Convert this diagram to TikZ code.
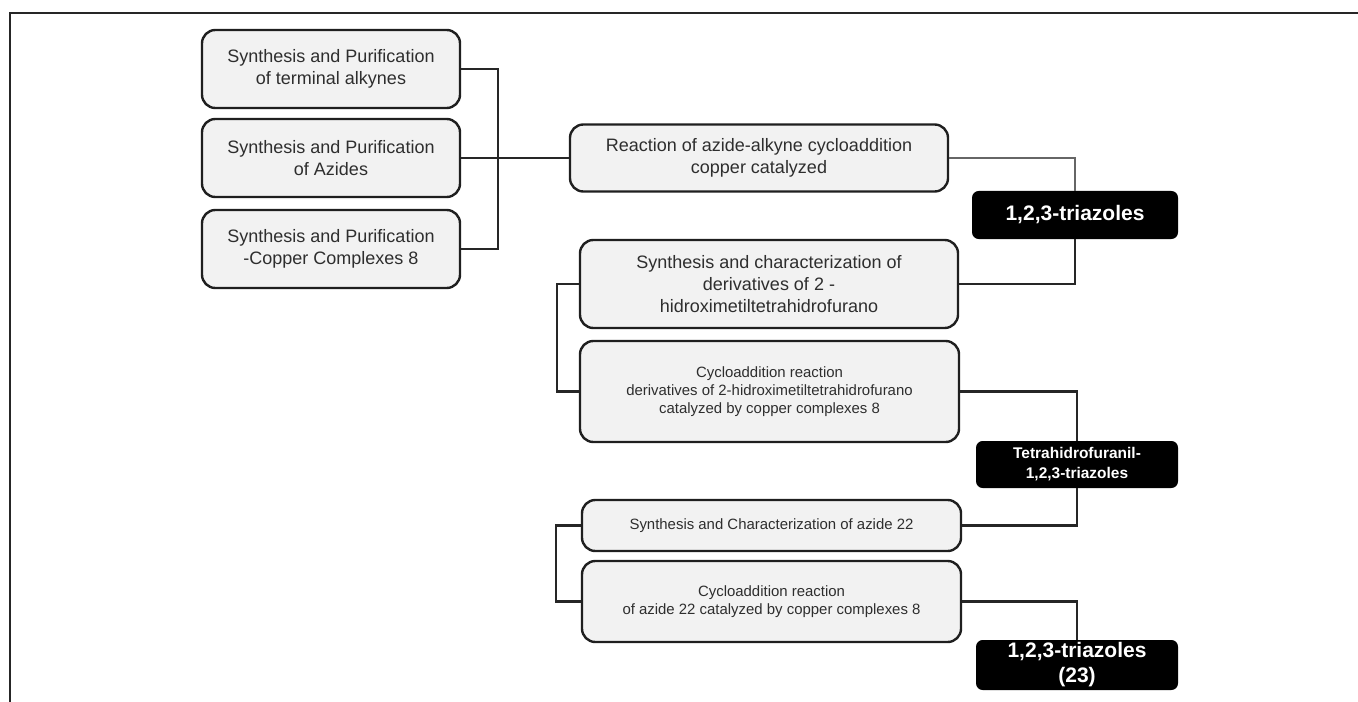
\documentclass[tikz,border=0pt]{standalone}
\usepackage{fontspec}
\setmainfont{Liberation Sans}
\usepackage{tikz}
\usetikzlibrary{positioning}

\newcommand{\px}{0.75pt}

\begin{document}
\begin{tikzpicture}[x=0.75pt, y=-0.75pt,
  caja/.style={draw=black!88, line width=1.8pt, fill=black!5, rounded corners=10pt, align=center, inner sep=0pt, text=black!82, font=\fontsize{13.5}{16.2}\selectfont},
  cajachica/.style={caja, font=\fontsize{11.2}{13.5}\selectfont},
  meta/.style={fill=black, rounded corners=5pt, align=center, inner sep=0pt, text=white, font=\bfseries\fontsize{15.75}{18.8}\selectfont},
  linea/.style={line width=1.7pt, black!85},
  lineafina/.style={line width=1.1pt, black!60}]
            \useasboundingbox (0,0) rectangle (1358,702);
            \draw[line width=1.6pt, black!85] (10,702) -- (10,13) -- (1358,13);

            % Cajas
            \node[caja, minimum width=258*\px, minimum height=78*\px] (a1) at (331,69) {Synthesis and Purification\\of terminal alkynes};
            \node[caja, minimum width=258*\px, minimum height=78*\px] (a2) at (331,158) {Synthesis and Purification\\of Azides};
            \node[caja, minimum width=258*\px, minimum height=78*\px] (a3) at (331,249) {Synthesis and Purification\\-Copper Complexes 8};
            \node[caja, minimum width=378*\px, minimum height=67*\px] (b) at (759,158) {Reaction of azide-alkyne cycloaddition\\copper catalyzed};
            \node[meta, minimum width=206*\px, minimum height=48*\px] (t1) at (1075,215) {1,2,3-triazoles};
            \node[caja, minimum width=378*\px, minimum height=88*\px] (c) at (769,284) {Synthesis and characterization of\\derivatives of 2 -\\hidroximetiltetrahidrofurano};
            \node[cajachica, minimum width=379*\px, minimum height=101*\px] (d) at (769.5,391.5) {Cycloaddition reaction\\derivatives of 2-hidroximetiltetrahidrofurano\\catalyzed by copper complexes 8};
            \node[meta, minimum width=202*\px, minimum height=47*\px, font=\bfseries\fontsize{11.6}{15}\selectfont] (t2) at (1077,464.5) {Tetrahidrofuranil-\\1,2,3-triazoles};
            \node[cajachica, minimum width=379*\px, minimum height=51*\px] (e) at (771.5,525.5) {Synthesis and Characterization of azide 22};
            \node[cajachica, minimum width=379*\px, minimum height=81*\px] (f) at (771.5,601.5) {Cycloaddition reaction\\of azide 22 catalyzed by copper complexes 8};
            \node[meta, minimum width=202*\px, minimum height=50*\px] (t3) at (1077,665) {1,2,3-triazoles\\(23)};

            % Conexiones
            \draw[linea] (a1.east) -- ++(37,0) |- (a3.east);
            \draw[linea] (a2.east) -- (b.west);
            \draw[lineafina] (b.east) -| (t1.north);
            \draw[linea] (t1.south) |- (c.east);
            \draw[linea] (c.west) -- ++(-22,0) |- (d.west);
            \draw[linea] (d.east) -| (t2.north);
            \draw[linea] (t2.south) |- (e.east);
            \draw[linea] (e.west) -- ++(-25,0) |- (f.west);
            \draw[linea] (f.east) -| (t3.north);
          \end{tikzpicture}
\end{document}
